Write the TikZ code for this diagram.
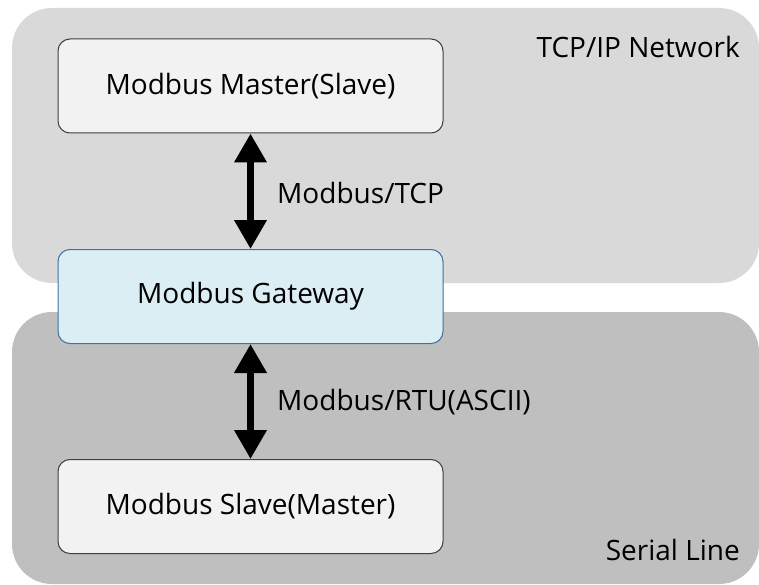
\documentclass[tikz,border=0pt]{standalone}
\usepackage{fontspec}
\setmainfont{Open Sans}
\usetikzlibrary{arrows.meta}
\definecolor{topgray}{HTML}{D9D9D9}
\definecolor{botgray}{HTML}{BFBFBF}
\definecolor{boxfill}{HTML}{F2F2F2}
\definecolor{boxline}{HTML}{3F3F3F}
\definecolor{gwfill}{HTML}{DAEEF3}
\definecolor{gwline}{HTML}{41719C}
\begin{document}
\begin{tikzpicture}[x=1pt,y=-1pt,
  region/.style={rounded corners=40pt},
  devbox/.style={draw=boxline, fill=boxfill, line width=1pt, rounded corners=12pt,
    minimum width=385pt, minimum height=94pt, inner sep=0pt, font=\fontsize{28}{33}\selectfont},
  gwbox/.style={devbox, draw=gwline, fill=gwfill},
  biarrow/.style={line width=7pt, {Triangle[width=31pt,length=29pt]}-{Triangle[width=31pt,length=29pt]}, shorten <=0pt, shorten >=0pt},
  lbl/.style={inner sep=0pt, font=\fontsize{28}{33}\selectfont}
]
\useasboundingbox (0,0) rectangle (759,585);
\fill[topgray, region] (12,8) rectangle (759,283);
\fill[botgray, region] (12,312) rectangle (759,584);
\node[lbl, anchor=east] (net) at (740,47) {TCP/IP Network};
\node[lbl, anchor=east] (ser) at (740,550) {Serial Line};
\node[devbox] (master) at (250.5,86) {Modbus Master(Slave)};
\node[gwbox] (gw) at (250.5,296.5) {Modbus Gateway};
\node[devbox] (slave) at (250.5,506.5) {Modbus Slave(Master)};
\draw[biarrow] (master.south) -- (gw.north);
\draw[biarrow] (gw.south) -- (slave.north);
\node[lbl, anchor=west] (tcp) at (277,193) {Modbus/TCP};
\node[lbl, anchor=west] (rtu) at (277,402) {Modbus/RTU(ASCII)};
\end{tikzpicture}
\end{document}
